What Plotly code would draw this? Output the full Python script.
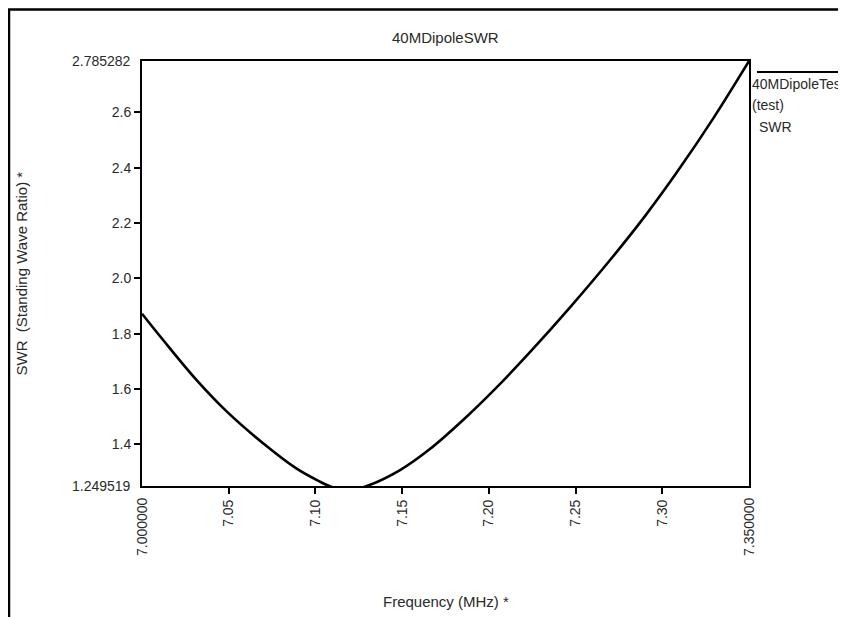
import plotly.graph_objects as go

# Data
freq_mhz = [7.000, 7.0123, 7.0315, 7.0488, 7.070, 7.0892, 7.1026, 7.108, 7.118,
            7.1296, 7.1488, 7.166, 7.1853, 7.2045, 7.2237, 7.2468, 7.2699, 7.291,
            7.3083, 7.3294, 7.350]
swr = [1.872, 1.776, 1.632, 1.519, 1.403, 1.312, 1.265, 1.2495, 1.234,
       1.2495, 1.307, 1.383, 1.489, 1.606, 1.733, 1.895, 2.066, 2.233,
       2.382, 2.578, 2.785]

x_min, x_max = 7.0, 7.35
y_min, y_max = 1.249519, 2.785282
x_tick_vals = [7.05, 7.10, 7.15, 7.20, 7.25, 7.30]
x_tick_text = ["7.05", "7.10", "7.15", "7.20", "7.25", "7.30"]
y_tick_vals = [1.4, 1.6, 1.8, 2.0, 2.2, 2.4, 2.6]
y_tick_text = ["1.4", "1.6", "1.8", "2.0", "2.2", "2.4", "2.6"]

title_text = "40MDipoleSWR"
x_title = "Frequency (MHz) *"
y_title = "SWR\u00a0 (Standing Wave Ratio) *"
legend_lines = ["40MDipoleTes", "(test)", "SWR"]

# page body has an 8px default margin, so the figure starts at (8, 8)
OFF = 8
W, H = 846, 617
PL, PT, PR, PB = 142, 61, 749, 486  # plot area in window pixels
pw, ph = PR - PL, PB - PT
L, T = PL - OFF, PT - OFF
R, B = W - L - pw, H - T - ph

def px(xw):
    return (xw - PL) / pw

def py(yw):
    return (PB - yw) / ph

FONT = "Arial, Liberation Sans, sans-serif"
TXT = "#2a2a2a"

fig = go.Figure()
fig.add_trace(go.Scatter(
    x=freq_mhz, y=swr, mode="lines",
    line=dict(color="black", width=2.6, shape="spline", smoothing=1.0),
    name="40MDipoleTest (test) SWR", showlegend=False, hoverinfo="x+y",
))

axis_common = dict(
    showgrid=False, zeroline=False, showline=True, linecolor="black",
    linewidth=2, mirror=True, ticks="outside", ticklen=6, tickwidth=2,
    tickcolor="black", tickfont=dict(family=FONT, size=14, color=TXT),
)
fig.update_xaxes(range=[x_min, x_max], tickvals=x_tick_vals, ticktext=x_tick_text,
                 tickangle=-90, **axis_common)
fig.update_yaxes(range=[y_min, y_max], tickvals=y_tick_vals, ticktext=y_tick_text,
                 **axis_common)

ann = []
f14 = dict(family=FONT, size=14, color=TXT)
f15 = dict(family=FONT, size=15, color=TXT)
# endpoint labels
ann.append(dict(xref="paper", yref="y", x=0, y=y_min, text=f"{y_min:.6f}",
                xanchor="right", yanchor="middle", xshift=-9, showarrow=False, font=f14))
ann.append(dict(xref="paper", yref="y", x=0, y=y_max, text=f"{y_max:.6f}",
                xanchor="right", yanchor="middle", xshift=-9, showarrow=False, font=f14))
ann.append(dict(xref="x", yref="paper", x=x_min, y=0, text=f"{x_min:.6f}",
                textangle=-90, xanchor="center", yanchor="middle", yshift=-41,
                showarrow=False, font=f14))
ann.append(dict(xref="x", yref="paper", x=x_max, y=0, text=f"{x_max:.6f}",
                textangle=-90, xanchor="center", yanchor="middle", yshift=-41,
                showarrow=False, font=f14))
# titles
ann.append(dict(xref="paper", yref="paper", x=0.5, y=py(37), text=title_text,
                xanchor="center", yanchor="middle", showarrow=False, font=f15))
ann.append(dict(xref="paper", yref="paper", x=0.5, y=py(601), text=x_title,
                xanchor="center", yanchor="middle", showarrow=False, font=f15))
ann.append(dict(xref="paper", yref="paper", x=px(21), y=0.5, text=y_title,
                textangle=-90, xanchor="center", yanchor="middle", showarrow=False, font=f15))
# legend text
ann.append(dict(xref="paper", yref="paper", x=px(750), y=py(84), text=legend_lines[0],
                xanchor="left", yanchor="middle", showarrow=False, font=f14))
ann.append(dict(xref="paper", yref="paper", x=px(750), y=py(105), text=legend_lines[1],
                xanchor="left", yanchor="middle", showarrow=False, font=f14))
ann.append(dict(xref="paper", yref="paper", x=px(757), y=py(127), text=legend_lines[2],
                xanchor="left", yanchor="middle", showarrow=False, font=f14))

shapes = [
    dict(type="line", xref="paper", yref="paper", x0=px(757), x1=px(843),
         y0=py(72), y1=py(72), line=dict(color="black", width=2)),
    dict(type="path", xref="paper", yref="paper",
         path=f"M {px(9)},{py(660)} L {px(9)},{py(9.5)} L {px(880)},{py(9.5)}",
         line=dict(color="black", width=2.5)),
]

fig.update_layout(
    width=W, height=H, margin=dict(l=L, r=R, t=T, b=B, autoexpand=False),
    paper_bgcolor="white", plot_bgcolor="white", showlegend=False,
    annotations=ann, shapes=shapes,
)

fig.write_html("out.html")
